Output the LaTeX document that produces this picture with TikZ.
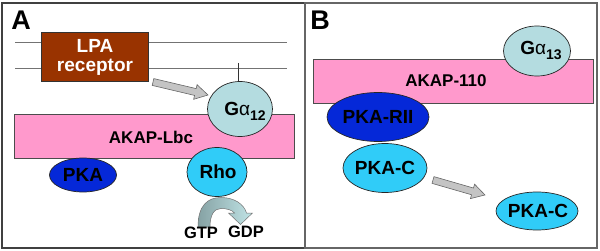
\documentclass[tikz,border=0pt]{standalone}
\usepackage{fontspec}
\setmainfont{Liberation Sans}
\usetikzlibrary{calc,shapes.geometric}
\definecolor{brownR}{HTML}{993300}
\definecolor{pinkA}{HTML}{FF99CC}
\definecolor{galpha}{HTML}{B4DCE0}
\definecolor{pkablue}{HTML}{0528D8}
\definecolor{cyanR}{HTML}{30CCF8}
\definecolor{arrgray}{HTML}{C4C4C4}
\definecolor{curvdark}{HTML}{86A2A4}
\definecolor{curvlight}{HTML}{C0E4E6}
\begin{document}
\begin{tikzpicture}[x=1pt,y=-1pt,
  panelbox/.style={draw=black!75, line width=1.4pt},
  membrane/.style={draw=black!55, line width=1pt},
  akapbar/.style={draw=black!70, fill=pinkA, line width=0.7pt},
  elp/.style={ellipse, draw=black!85, line width=0.7pt, inner sep=0pt},
  lbl/.style={font=\fontsize{19}{19}\selectfont\bfseries, text=black, inner sep=0pt},
  barlbl/.style={font=\fontsize{17}{17}\selectfont\bfseries, inner sep=0pt},
  panellbl/.style={font=\fontsize{27}{27}\selectfont\bfseries, inner sep=0pt},
  smalllbl/.style={font=\fontsize{16.5}{16.5}\selectfont\bfseries, inner sep=0pt},
  blockarrow/.style={draw=black!60, fill=arrgray, line width=0.6pt, line join=miter},
]
\useasboundingbox (0,0) rectangle (600,251);

% panels
\draw[panelbox] (2,3) rectangle (305,248);
\draw[panelbox, draw=black!60, line width=1.2pt] (305,3) rectangle (597,248);
\node[panellbl] (labA) at (21,20) {A};
\node[panellbl] (labB) at (320,20) {B};

% ===== Panel A =====
\coordinate (m1l) at (15,43);  \coordinate (m1r) at (287,43);
\coordinate (m2l) at (15,69);  \coordinate (m2r) at (287,69);
\draw[membrane] (m1l) -- (m1r);
\draw[membrane] (m2l) -- (m2r);

\node[draw=black!80, fill=brownR, line width=0.7pt, minimum width=107pt, minimum height=49pt,
      inner sep=0pt] (lpa) at (94.5,56.5) {};
\node[lbl, text=white, align=center, font=\fontsize{19}{19}\selectfont\bfseries] (lpat) at (95,57) {LPA\\receptor};

\node[akapbar, minimum width=280pt, minimum height=44pt, inner sep=0pt] (lbc) at (154,136) {};
\node[barlbl] (lbct) at (151,137) {AKAP-Lbc};

\node[elp, fill=galpha, minimum width=65pt, minimum height=55pt] (ga12) at (240,109) {};
\node[lbl] (ga12t) at (245,111) {G{\mdseries α}\raisebox{-5pt}{\fontsize{14}{14}\selectfont 12}};
\coordinate (tickTop) at (238,63);
\draw[black!80, line width=0.6pt] (tickTop) -- (tickTop |- ga12.north);

% block arrow receptor -> G alpha 12
\coordinate (aS) at (153,82);
\coordinate (aE) at (208,95);
\coordinate (aH) at ($(aE)!13pt!(aS)$);
\draw[blockarrow] ($(aS)!3.5pt!90:(aE)$) -- ($(aH)!3.5pt!90:(aE)$) -- ($(aH)!7.5pt!90:(aE)$)
  -- (aE) -- ($(aH)!7.5pt!-90:(aE)$) -- ($(aH)!3.5pt!-90:(aE)$) -- ($(aS)!3.5pt!-90:(aE)$) -- cycle;

\node[elp, fill=pkablue, minimum width=67pt, minimum height=34pt] (pka) at (83,175) {};
\node[lbl] (pkat) at (83,175) {PKA};

% GTP -> GDP curved arrow
\draw[draw=black!55, line width=0.5pt, left color=curvdark, right color=curvlight, line join=miter]
  (198,227) .. controls (198,205) and (208,197.5) .. (221,197.5)
  .. controls (234,197.5) and (244,204) .. (246.5,213)
  -- (252.5,213) -- (240.5,224.5) -- (228.5,213) -- (234.5,213)
  .. controls (232,210) and (227,208.5) .. (221,208.5)
  .. controls (214,208.5) and (210,215) .. (210,227) -- cycle;

\node[elp, fill=cyanR, minimum width=60pt, minimum height=49pt] (rho) at (217,172) {};
\node[lbl] (rhot) at (218,172) {Rho};

\node[smalllbl] (gtp) at (201,233) {GTP};
\node[smalllbl] (gdp) at (246,232) {GDP};

% ===== Panel B =====
\node[akapbar, minimum width=280pt, minimum height=44pt, inner sep=0pt] (a110) at (453,81) {};
\node[barlbl] (a110t) at (446,81) {AKAP-110};

\node[elp, fill=galpha, minimum width=67pt, minimum height=50pt] (ga13) at (537,51) {};
\node[lbl] (ga13t) at (541,50) {G{\mdseries α}\raisebox{-5pt}{\fontsize{14}{14}\selectfont 13}};

\node[elp, fill=pkablue, minimum width=102pt, minimum height=49pt] (rii) at (378,117) {};
\node[lbl] (riit) at (378,117) {PKA-RII};

\node[elp, fill=cyanR, minimum width=84pt, minimum height=49pt] (pkc1) at (385,168) {};
\node[lbl] (pkc1t) at (385,168) {PKA-C};

\node[elp, fill=cyanR, minimum width=82pt, minimum height=38pt] (pkc2) at (537,211) {};
\node[lbl] (pkc2t) at (538,211) {PKA-C};

\coordinate (bS) at (433,180);
\coordinate (bE) at (485,195);
\coordinate (bH) at ($(bE)!13pt!(bS)$);
\draw[blockarrow] ($(bS)!3.5pt!90:(bE)$) -- ($(bH)!3.5pt!90:(bE)$) -- ($(bH)!7.5pt!90:(bE)$)
  -- (bE) -- ($(bH)!7.5pt!-90:(bE)$) -- ($(bH)!3.5pt!-90:(bE)$) -- ($(bS)!3.5pt!-90:(bE)$) -- cycle;
\end{tikzpicture}
\end{document}
